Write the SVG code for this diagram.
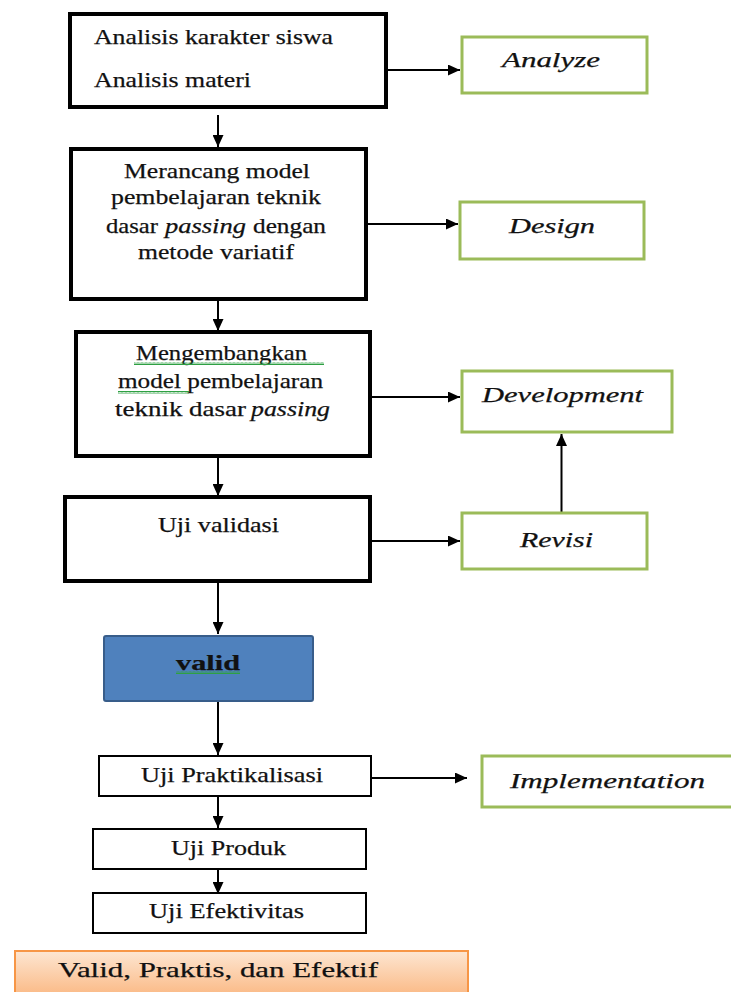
<svg xmlns="http://www.w3.org/2000/svg" width="731" height="992" viewBox="0 0 731 992">
<style>
.t{font-family:"Liberation Serif","Times New Roman",serif;font-size:22px;fill:#111;stroke:#111;stroke-width:0.25;}
.i{font-style:italic;}
.b{font-weight:bold;}
.thick{fill:#fff;stroke:#000;stroke-width:4;}
.thin{fill:#fff;stroke:#000;stroke-width:2;}
.green{fill:#fff;stroke:#9BBB59;stroke-width:3;}
.con{stroke:#000;stroke-width:2;fill:none;marker-end:url(#ah);}
</style>
<defs>
<marker id="ah" markerUnits="userSpaceOnUse" markerWidth="12" markerHeight="11" refX="12" refY="5.5" orient="auto">
<path d="M0,0 L12,5.5 L0,11 z" fill="#000"/>
</marker>
<linearGradient id="og" x1="0" y1="0" x2="0" y2="1">
<stop offset="0" stop-color="#FDE6D2"/>
<stop offset="1" stop-color="#FAB47C"/>
</linearGradient>
<pattern id="sq" width="4" height="3" patternUnits="userSpaceOnUse">
<path d="M0,2.5 L1,0.5 L2,2.5 L3,0.5 L4,2.5" stroke="#2EA043" stroke-width="1" fill="none"/>
</pattern>
</defs>
<rect width="731" height="992" fill="#fff"/>

<g id="connectors">
<line class="con" x1="388" y1="70" x2="460" y2="70"/>
<line class="con" x1="218" y1="115" x2="218" y2="147"/>
<line class="con" x1="368" y1="224" x2="458" y2="224"/>
<line class="con" x1="218" y1="300" x2="218" y2="331"/>
<line class="con" x1="372" y1="397" x2="460" y2="397"/>
<line class="con" x1="218" y1="458" x2="218" y2="496"/>
<line class="con" x1="372" y1="541" x2="460" y2="541"/>
<line class="con" x1="561.5" y1="512" x2="561.5" y2="434"/>
<line class="con" x1="218" y1="583" x2="218" y2="634"/>
<line class="con" x1="218" y1="702" x2="218" y2="755"/>
<line class="con" x1="372" y1="778" x2="467" y2="778"/>
<line class="con" x1="218" y1="797" x2="218" y2="828"/>
<line class="con" x1="218" y1="870" x2="218" y2="894"/>
</g>

<g id="analisis">
<rect class="thick" x="70" y="14" width="316" height="93"/>
<text class="t" x="94" y="44" textLength="239" lengthAdjust="spacingAndGlyphs">Analisis karakter siswa</text>
<text class="t" x="94" y="87" textLength="157" lengthAdjust="spacingAndGlyphs">Analisis materi</text>
</g>

<g id="analyze">
<rect class="green" x="462" y="37" width="185" height="56"/>
<text class="t i" x="502" y="67" textLength="98" lengthAdjust="spacingAndGlyphs">Analyze</text>
</g>

<g id="merancang">
<rect class="thick" x="71" y="149" width="295" height="150"/>
<text class="t" x="124" y="178" textLength="186" lengthAdjust="spacingAndGlyphs">Merancang model</text>
<text class="t" x="111" y="204" textLength="210" lengthAdjust="spacingAndGlyphs">pembelajaran teknik</text>
<text class="t" x="106" y="233" textLength="52" lengthAdjust="spacingAndGlyphs">dasar</text>
<text class="t i" x="165" y="233" textLength="81" lengthAdjust="spacingAndGlyphs">passing</text>
<text class="t" x="253" y="233" textLength="73" lengthAdjust="spacingAndGlyphs">dengan</text>
<text class="t" x="138" y="259" textLength="156" lengthAdjust="spacingAndGlyphs">metode variatif</text>
</g>

<g id="design">
<rect class="green" x="460" y="202" width="184" height="57"/>
<text class="t i" x="509" y="233" textLength="86" lengthAdjust="spacingAndGlyphs">Design</text>
</g>

<g id="mengembangkan">
<rect class="thick" x="76" y="332" width="294" height="124"/>
<text class="t" x="136" y="360" textLength="171" lengthAdjust="spacingAndGlyphs">Mengembangkan</text>
<rect x="134" y="362" width="190" height="3" fill="url(#sq)"/>
<text class="t" x="118" y="388" textLength="205" lengthAdjust="spacingAndGlyphs">model pembelajaran</text>
<rect x="118" y="391" width="71" height="3" fill="url(#sq)"/>
<text class="t" x="115" y="416" textLength="131" lengthAdjust="spacingAndGlyphs">teknik dasar</text>
<text class="t i" x="251" y="416" textLength="79" lengthAdjust="spacingAndGlyphs">passing</text>
</g>

<g id="development">
<rect class="green" x="462" y="371" width="210" height="61"/>
<text class="t i" x="482" y="402" textLength="161" lengthAdjust="spacingAndGlyphs">Development</text>
</g>

<g id="uji-validasi">
<rect class="thick" x="65" y="497" width="305" height="84"/>
<text class="t" x="158" y="532" textLength="121" lengthAdjust="spacingAndGlyphs">Uji validasi</text>
</g>

<g id="revisi">
<rect class="green" x="462" y="513" width="185" height="56"/>
<text class="t i" x="520" y="547" textLength="73" lengthAdjust="spacingAndGlyphs">Revisi</text>
</g>

<g id="valid">
<rect x="104" y="636" width="209" height="65" rx="2" fill="#4F81BD" stroke="#385D8A" stroke-width="2"/>
<text class="t b" x="176" y="670" textLength="64" lengthAdjust="spacingAndGlyphs">valid</text>
<rect x="176" y="671" width="64" height="3" fill="url(#sq)"/>
</g>

<g id="uji-praktikalisasi">
<rect class="thin" x="99" y="756" width="272" height="40"/>
<text class="t" x="141" y="782" textLength="182" lengthAdjust="spacingAndGlyphs">Uji Praktikalisasi</text>
</g>

<g id="implementation">
<rect class="green" x="482" y="756" width="260" height="51"/>
<text class="t i" x="510" y="788" textLength="195" lengthAdjust="spacingAndGlyphs">Implementation</text>
</g>

<g id="uji-produk">
<rect class="thin" x="93" y="829" width="273" height="40"/>
<text class="t" x="171" y="855" textLength="115" lengthAdjust="spacingAndGlyphs">Uji Produk</text>
</g>

<g id="uji-efektivitas">
<rect class="thin" x="93" y="893" width="273" height="40"/>
<text class="t" x="149" y="918" textLength="155" lengthAdjust="spacingAndGlyphs">Uji Efektivitas</text>
</g>

<g id="hasil">
<rect x="15" y="951" width="453" height="50" fill="url(#og)" stroke="#F79646" stroke-width="2"/>
<text class="t" x="58" y="977" textLength="320" lengthAdjust="spacingAndGlyphs">Valid, Praktis, dan Efektif</text>
</g>
</svg>
